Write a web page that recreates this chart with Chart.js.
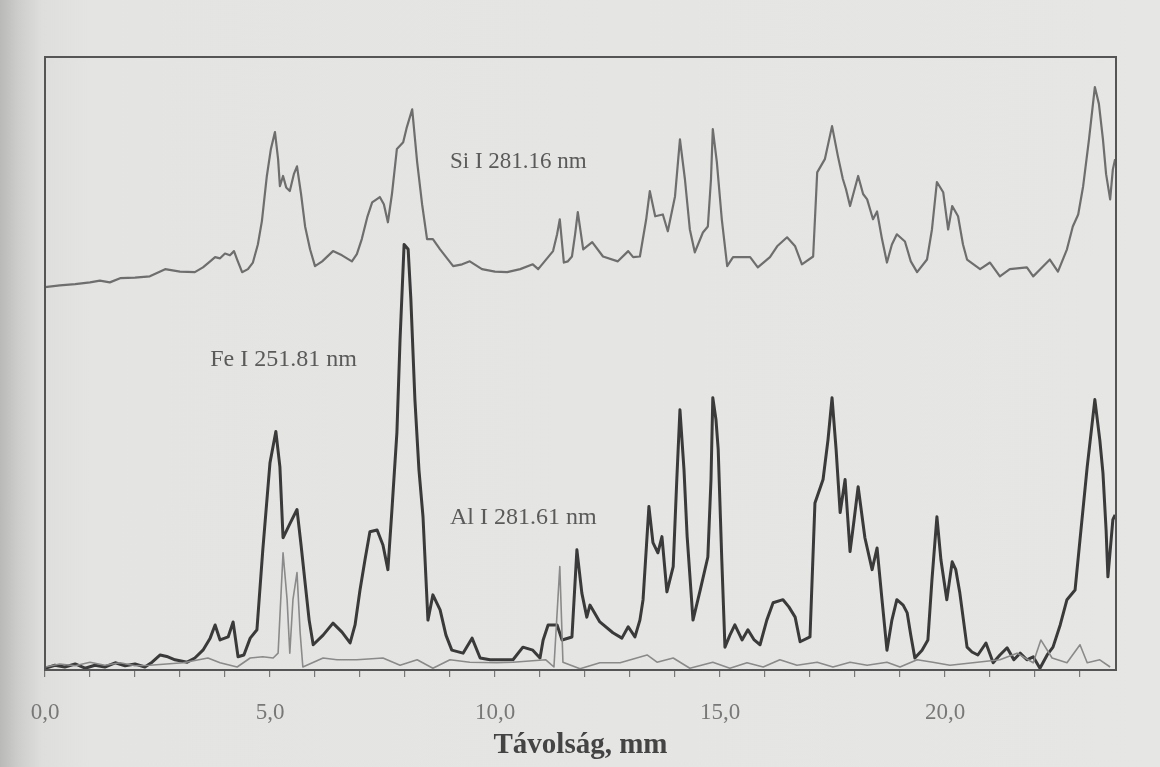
<!DOCTYPE html>
<html>
<head>
<meta charset="utf-8">
<title>Távolság profil</title>
<script src="https://cdn.jsdelivr.net/npm/chart.js@4.4.1/dist/chart.umd.min.js"></script>
<style>
  html, body { margin: 0; padding: 0; }
  body {
    width: 1160px; height: 767px; overflow: hidden;
    background: linear-gradient(to right, #b9b9b8 0px, #cdcdcc 18px, #dededc 42px, #e4e4e2 90px, #e6e6e4 100%);
  }
  #wrap { position: relative; width: 1160px; height: 767px; }
</style>
</head>
<body>
<div id="wrap"><canvas id="c" width="1160" height="767"></canvas></div>
<script>
// Distance along the scan line, mm, and relative line intensities (arbitrary units)
const siX = [0.0,0.33,0.67,1.0,1.22,1.44,1.67,2.0,2.33,2.67,3.0,3.33,3.51,3.67,3.78,3.89,4.0,4.11,4.2,4.27,4.38,4.51,4.62,4.73,4.82,4.93,5.02,5.11,5.18,5.22,5.29,5.36,5.44,5.53,5.6,5.69,5.78,5.89,6.0,6.16,6.4,6.6,6.82,6.93,7.04,7.16,7.27,7.44,7.53,7.62,7.71,7.82,7.96,8.04,8.16,8.27,8.38,8.49,8.62,8.78,9.07,9.27,9.44,9.71,10.0,10.27,10.56,10.84,10.96,11.18,11.29,11.38,11.44,11.53,11.62,11.71,11.78,11.84,11.96,12.16,12.4,12.73,12.96,13.07,13.22,13.36,13.44,13.56,13.73,13.84,14.0,14.11,14.22,14.33,14.44,14.62,14.73,14.8,14.84,14.93,15.04,15.16,15.29,15.67,15.84,16.11,16.27,16.49,16.67,16.82,17.07,17.16,17.33,17.49,17.62,17.73,17.8,17.89,18.07,18.18,18.27,18.4,18.49,18.6,18.71,18.82,18.93,19.11,19.24,19.38,19.6,19.71,19.82,19.96,20.07,20.16,20.29,20.4,20.49,20.78,21.0,21.22,21.44,21.82,21.96,22.16,22.33,22.51,22.71,22.84,22.96,23.07,23.2,23.33,23.42,23.51,23.58,23.67,23.73,23.78];
const siY = [63.7,64.0,64.2,64.5,64.8,64.5,65.2,65.3,65.5,66.7,66.3,66.2,67.0,68.0,68.7,68.5,69.3,69.0,69.7,68.3,66.2,66.7,67.8,70.8,74.7,82.2,86.7,89.5,85.0,80.5,82.2,80.3,79.7,82.5,83.8,79.2,73.8,70.0,67.2,68.0,69.7,69.0,68.0,69.2,71.7,75.3,77.8,78.7,77.5,74.5,79.2,86.7,87.8,90.3,93.3,84.5,77.5,71.7,71.7,70.0,67.2,67.5,68.0,66.7,66.3,66.2,66.7,67.5,66.7,68.7,69.7,72.5,75.0,67.8,68.0,68.8,72.5,76.2,70.0,71.2,68.8,68.0,69.7,68.7,68.8,75.0,79.7,75.5,75.8,73.0,78.8,88.3,81.7,73.3,69.5,72.8,73.8,81.7,90.0,84.5,75.0,67.2,68.7,68.7,67.0,68.7,70.5,72.0,70.5,67.5,68.8,82.8,85.0,90.5,85.5,81.7,80.0,77.2,82.2,79.2,78.3,75.0,76.3,71.7,67.8,70.8,72.5,71.3,68.0,66.2,68.3,73.3,81.2,79.5,73.3,77.2,75.5,70.8,68.3,66.7,67.8,65.5,66.7,67.0,65.5,67.0,68.3,66.3,70.0,73.8,75.8,80.5,88.3,97.0,94.2,88.3,82.5,78.3,83.3,85.0];

const feX = [0.0,0.22,0.44,0.67,0.89,1.11,1.33,1.56,1.78,2.0,2.22,2.38,2.56,2.73,2.89,3.16,3.33,3.51,3.67,3.78,3.89,4.07,4.18,4.29,4.42,4.56,4.71,4.84,5.0,5.13,5.22,5.29,5.44,5.6,5.69,5.78,5.87,5.96,6.18,6.4,6.6,6.78,6.89,7.0,7.11,7.22,7.38,7.51,7.62,7.71,7.82,7.89,7.98,8.07,8.13,8.22,8.31,8.4,8.51,8.62,8.78,8.91,9.04,9.29,9.49,9.67,9.89,10.11,10.4,10.62,10.84,11.0,11.07,11.18,11.38,11.49,11.71,11.82,11.93,12.04,12.11,12.33,12.62,12.82,12.96,13.11,13.22,13.29,13.36,13.42,13.51,13.62,13.71,13.82,13.96,14.04,14.11,14.2,14.27,14.4,14.56,14.73,14.8,14.84,14.91,14.96,15.04,15.11,15.22,15.33,15.49,15.62,15.76,15.89,16.04,16.18,16.4,16.53,16.67,16.78,17.0,17.11,17.29,17.4,17.49,17.58,17.67,17.78,17.89,17.98,18.07,18.22,18.38,18.49,18.6,18.71,18.82,18.93,19.07,19.16,19.24,19.33,19.49,19.62,19.71,19.82,19.91,20.04,20.16,20.24,20.33,20.49,20.6,20.73,20.84,20.91,21.07,21.22,21.38,21.53,21.67,21.82,21.96,22.11,22.27,22.4,22.56,22.71,22.89,23.0,23.16,23.33,23.44,23.51,23.58,23.62,23.73,23.78];
const feY = [0.3,0.8,0.5,1.0,0.3,0.8,0.5,1.2,0.7,1.0,0.5,1.3,2.5,2.2,1.7,1.3,2.0,3.3,5.3,7.5,5.0,5.5,8.0,2.2,2.5,5.3,6.7,20.0,34.5,39.7,33.8,22.0,24.3,26.7,20.8,14.5,8.3,4.2,5.8,7.8,6.3,4.5,7.5,13.3,18.3,23.0,23.3,20.8,16.7,26.7,39.5,55.0,70.8,70.0,61.7,45.0,33.3,25.5,8.3,12.5,10.0,5.8,3.3,2.8,5.3,2.0,1.7,1.7,1.7,3.8,3.3,2.0,5.0,7.5,7.5,5.0,5.5,20.0,12.8,8.8,10.8,8.0,6.2,5.3,7.2,5.5,8.3,11.7,20.0,27.2,21.2,19.5,22.2,13.0,17.2,31.7,43.3,33.3,22.2,8.3,13.3,18.8,31.7,45.3,41.7,36.7,18.3,3.8,5.8,7.5,5.0,6.7,5.0,4.2,8.3,11.2,11.7,10.5,8.8,4.7,5.5,27.8,31.7,38.3,45.3,36.7,26.2,31.7,19.7,25.0,30.5,22.0,16.7,20.3,11.7,3.3,8.3,11.7,10.8,9.5,5.8,2.0,3.3,5.0,15.0,25.5,18.3,11.7,18.0,16.7,12.8,3.8,3.0,2.5,3.7,4.5,1.2,2.5,3.7,1.7,2.8,1.7,2.2,0.3,2.5,3.8,7.5,11.7,13.3,21.7,33.8,45.0,38.3,32.8,23.3,15.5,25.0,25.8];

const alX = [0.0,0.33,0.67,1.0,1.33,1.67,2.0,2.33,3.07,3.62,3.89,4.27,4.56,4.84,5.07,5.18,5.29,5.38,5.44,5.51,5.6,5.67,5.73,6.18,6.49,6.93,7.51,7.89,8.27,8.62,9.0,9.44,10.04,10.4,11.13,11.31,11.44,11.51,11.89,12.33,12.78,13.38,13.6,13.96,14.33,14.84,15.22,15.6,15.96,16.33,16.71,17.16,17.51,17.89,18.27,18.71,19.0,19.38,19.73,20.11,20.62,21.22,21.6,21.96,22.13,22.38,22.71,23.0,23.16,23.44,23.67];
const alY = [0.5,1.0,0.7,1.3,0.8,1.2,0.7,0.8,1.2,2.0,1.2,0.5,2.0,2.2,2.0,2.8,19.5,11.7,2.8,11.7,16.2,6.2,0.5,2.0,1.7,1.7,2.0,0.8,1.7,0.3,1.7,1.3,1.2,1.3,1.7,0.5,17.2,1.3,0.2,1.2,1.2,2.5,1.3,2.0,0.3,1.3,0.3,1.2,0.5,1.7,0.8,1.3,0.5,1.3,0.8,1.3,0.5,1.7,1.3,0.8,1.2,1.7,2.8,1.2,5.0,2.0,1.2,4.2,1.2,1.7,0.5];

// Axis ticks and line captions
const xMin = 0, xMax = 23.8, xStep = 1, xLabelEvery = 5;
const lineNames = ['Si I 281.16 nm', 'Fe I 251.81 nm', 'Al I 281.61 nm'];
const captionX = [9.0, 3.67, 9.0];
const captionY = [84.5, 51.6, 25.3];
const captionSize = [23, 24, 24];
const axisTitle = 'Távolság, mm';

const toPoints = (xs, ys) => xs.map((x, i) => ({ x: x, y: ys[i] }));

const serif = '"Liberation Serif", "DejaVu Serif", serif';

const frameAndCaptions = {
  id: 'frameAndCaptions',
  afterDatasetsDraw(chart) {
    const { ctx, chartArea: a, scales } = chart;
    ctx.save();
    ctx.strokeStyle = '#555';
    ctx.lineWidth = 2;
    ctx.strokeRect(a.left, a.top, a.right - a.left, a.bottom - a.top);
    ctx.fillStyle = '#5a5a5a';
    ctx.textAlign = 'left';
    ctx.textBaseline = 'middle';
    lineNames.forEach((t, i) => {
      ctx.font = captionSize[i] + 'px ' + serif;
      ctx.fillText(t, scales.x.getPixelForValue(captionX[i]), scales.y.getPixelForValue(captionY[i]));
    });
    ctx.restore();
  }
};

new Chart(document.getElementById('c'), {
  type: 'line',
  data: {
    datasets: [
      { label: lineNames[0], data: toPoints(siX, siY), borderColor: '#6e6e6e', borderWidth: 2.2, order: 2 },
      { label: lineNames[1], data: toPoints(feX, feY), borderColor: '#3a3a3a', borderWidth: 3, order: 3 },
      { label: lineNames[2], data: toPoints(alX, alY), borderColor: '#8a8a8a', borderWidth: 1.6, order: 1 }
    ]
  },
  options: {
    responsive: false,
    animation: false,
    elements: { point: { radius: 0 }, line: { tension: 0, fill: false, borderJoinStyle: 'round' } },
    layout: { padding: { left: 45, right: 44, top: 57, bottom: 0 } },
    plugins: { legend: { display: false }, tooltip: { enabled: false } },
    scales: {
      x: {
        type: 'linear',
        min: xMin, max: xMax,
        afterFit(scale) { scale.height = 97; },
        border: { display: true, color: '#555', width: 2 },
        grid: { display: true, drawOnChartArea: false, drawTicks: true, tickLength: 7, color: '#777', lineWidth: 1.2 },
        ticks: {
          stepSize: xStep,
          includeBounds: false,
          autoSkip: false,
          maxRotation: 0,
          padding: 22,
          color: '#787878',
          font: { family: serif, size: 23 },
          callback: (v) => (Math.abs(v % xLabelEvery) < 1e-9 ? v.toFixed(1).replace('.', ',') : '')
        },
        title: {
          display: true,
          text: axisTitle,
          color: '#444',
          font: { family: serif, size: 29, weight: 'bold' },
          padding: { top: 0, bottom: 4 }
        }
      },
      y: { display: false, min: 0, max: 102 }
    }
  },
  plugins: [frameAndCaptions]
});
</script>
</body>
</html>
